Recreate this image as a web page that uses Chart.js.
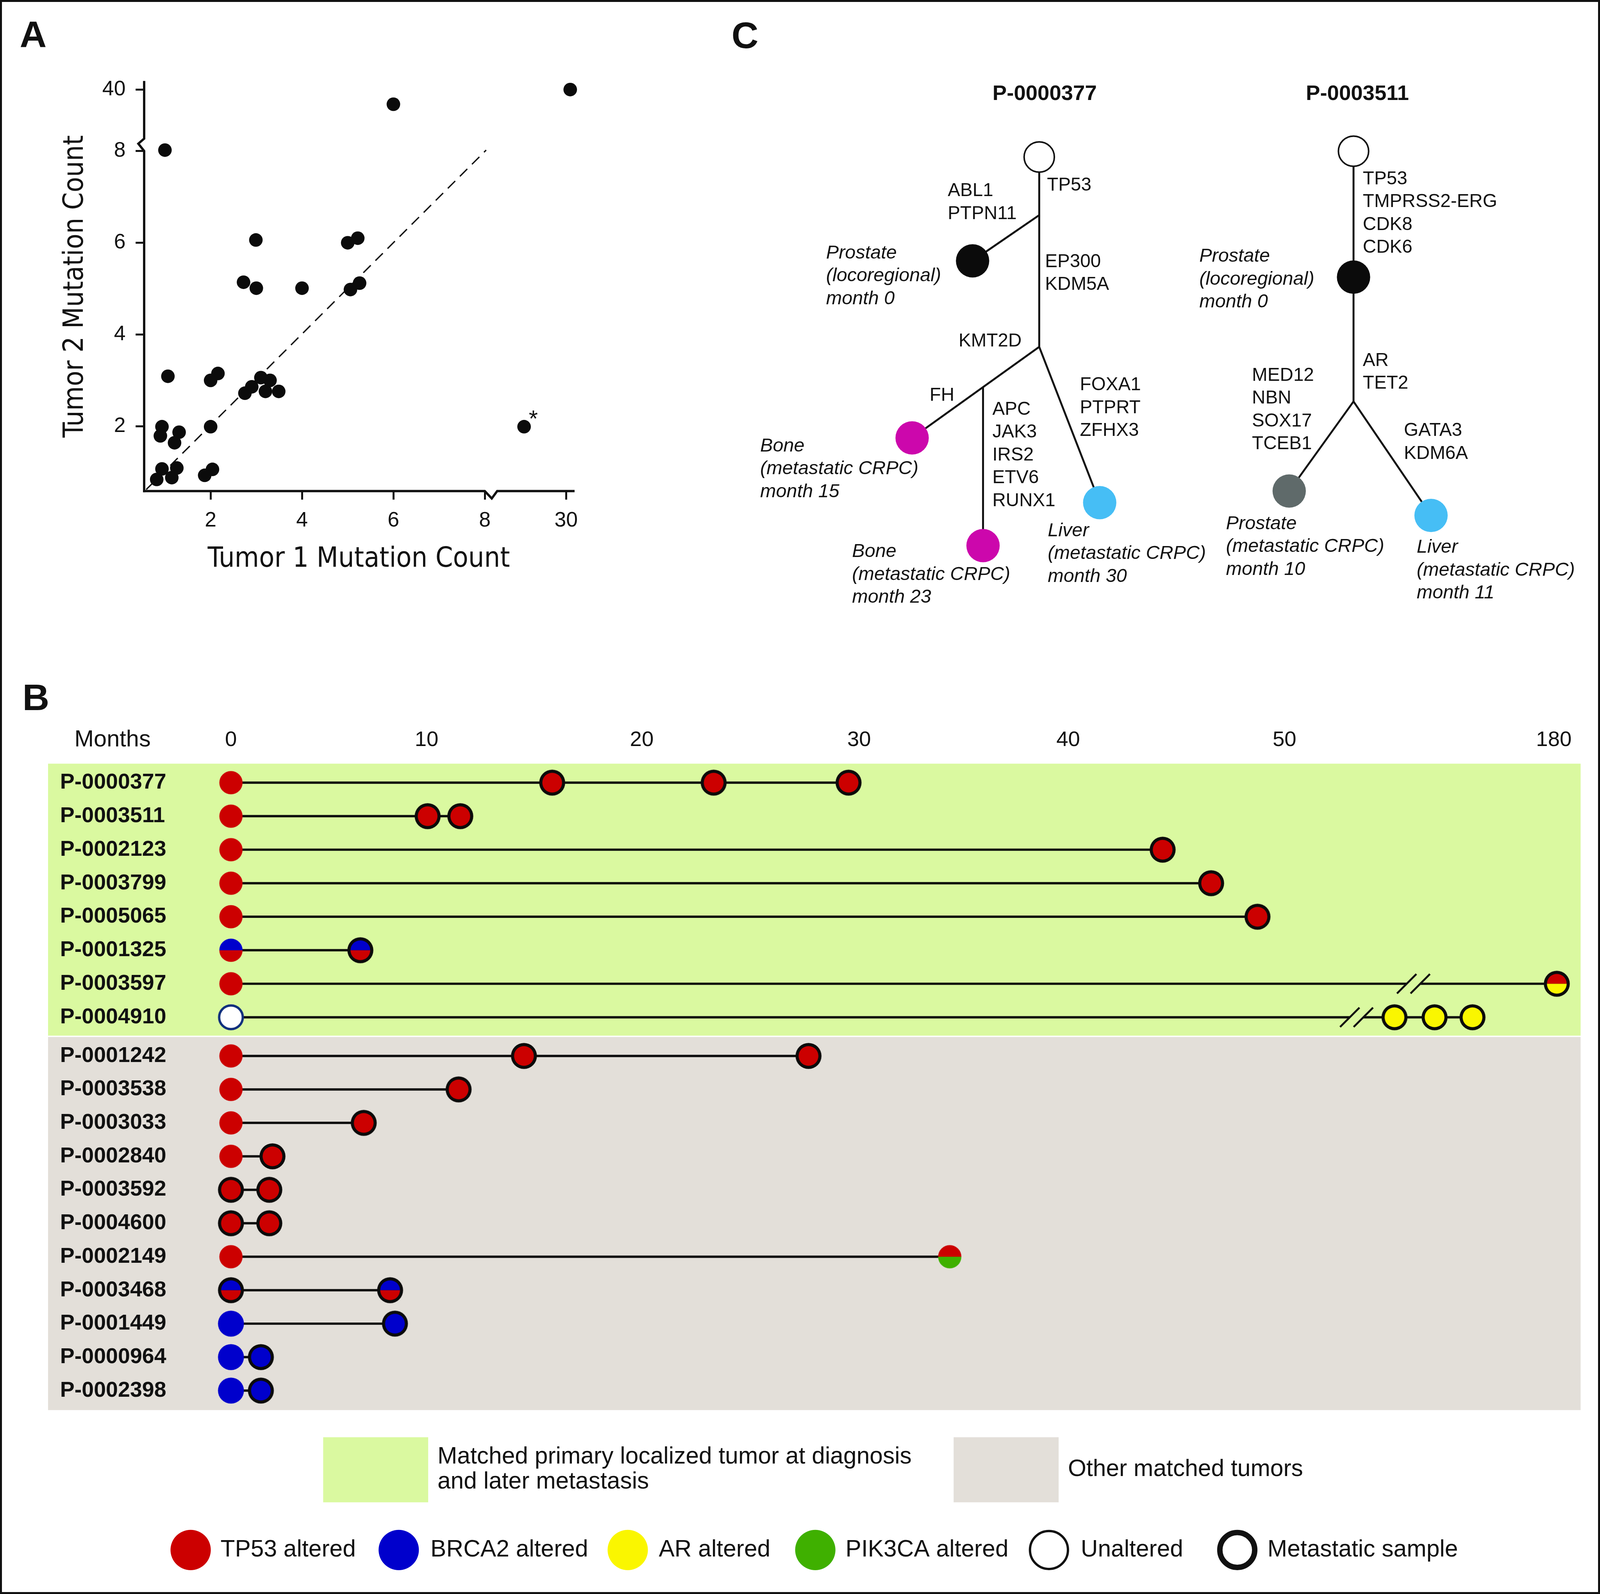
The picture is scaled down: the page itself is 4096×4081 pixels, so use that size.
<!DOCTYPE html>
<html><head><meta charset="utf-8">
<script src="https://cdn.jsdelivr.net/npm/chart.js@4.4.1/dist/chart.umd.min.js"></script>
<style>
html,body{margin:0;padding:0;background:#fff;}
#page{position:relative;width:4096px;height:4081px;overflow:hidden;background:#fff;}
#page canvas{position:absolute;}
#frame{position:absolute;left:0;top:0;width:4096px;height:4081px;box-sizing:border-box;border:5px solid #111;pointer-events:none;}
</style></head>
<body><div id="page"><div id="frame"></div></div>
<script>
// ================= DATA =================
// Panel A: positions on the (broken) axes; values above 8 lie in the compressed segment
const A_TUMOR1 = [0.82,0.935,1.15,1.26,0.935,0.9,1.21,1.31,1.065,1.0,1.87,2.04,2.0,2.0,2.16,2.75,2.9,3.1,3.2,3.3,3.49,2.72,3.0,2.99,4.0,5.0,5.22,5.06,5.26,6.0,9.87,8.86];
const A_TUMOR2 = [0.84,1.07,0.88,1.09,1.99,1.79,1.64,1.87,3.09,8.02,0.93,1.06,1.99,3.0,3.15,2.72,2.86,3.06,2.76,3.0,2.76,5.14,5.01,6.06,5.01,6.0,6.1,4.98,5.12,9.02,9.34,1.99];
const A_XTICK_POS = [2,4,6,8,9.78];
const A_XTICK_LABELS = ['2','4','6','8','30'];
const A_YTICK_POS = [2,4,6,8,9.34];
const A_YTICK_LABELS = ['2','4','6','8','40'];
const A_DIAG_X = [0.59, 8.03];
const A_DIAG_Y = [0.62, 8.02];
const A_BREAK = 8;
const A_STAR_INDEX = 31;

// Panel B
const B_TICK_POS = [0, 9.28, 19.49, 29.8, 39.72, 49.98, 62.76];
const B_TICK_LABELS = ['0','10','20','30','40','50','180'];
const B1_PATIENTS = ['P-0000377','P-0003511','P-0002123','P-0003799','P-0005065','P-0001325','P-0003597','P-0004910'];
const B1_MONTHS = [[0,15.24,22.9,29.3],[0,9.33,10.88],[0,44.2],[0,46.5],[0,48.7],[0,6.14],[0,62.9],[0,55.2,57.1,58.9]];
const B1_TYPES = [['T','Tm','Tm','Tm'],['T','Tm','Tm'],['T','Tm'],['T','Tm'],['T','Tm'],['BT','BTm'],['T','TAm'],['U','Am','Am','Am']];
const B2_PATIENTS = ['P-0001242','P-0003538','P-0003033','P-0002840','P-0003592','P-0004600','P-0002149','P-0003468','P-0001449','P-0000964','P-0002398'];
const B2_MONTHS = [[0,13.9,27.4],[0,10.8],[0,6.3],[0,1.97],[0,1.82],[0,1.82],[0,34.1],[0,7.55],[0,7.78],[0,1.42],[0,1.42]];
const B2_TYPES = [['T','Tm','Tm'],['T','Tm'],['T','Tm'],['T','Tm'],['Tm','Tm'],['Tm','Tm'],['T','TK'],['BTm','BTm'],['B','Bm'],['B','Bm'],['B','Bm']];
const B_BREAK_ROWS = ['P-0003597','P-0004910'];
const B_BREAK_AT = [56.1, 53.4];

// Panel C (tree layout units)
const C_NODE_X = [7.82, 6.10, 4.54, 6.37, 9.38, 15.93, 15.93, 14.27, 17.93];
const C_NODE_Y = [2.55, 5.23, 9.80, 12.58, 11.47, 2.40, 5.65, 11.17, 11.80];
const C_NODE_KIND = ['root','prostate','bone','bone','liver','root','prostate','prostateMet','liver'];
const C_EDGES = [
  [[7.82,2.55],[7.82,7.45]], [[7.82,4.05],[6.10,5.23]], [[7.82,7.45],[4.54,9.80]],
  [[6.37,8.49],[6.37,12.58]], [[7.82,7.45],[9.38,11.47]],
  [[15.93,2.40],[15.93,8.86]], [[15.93,8.86],[14.27,11.17]], [[15.93,8.86],[17.93,11.80]]
];
const C_TITLES = ['P-0000377','P-0003511'];
const C_TITLE_X = [7.96, 16.03];
const C_TITLE_Y = [0.93, 0.93];
const C_LABEL_TEXT = [
  ['TP53'],['ABL1','PTPN11'],['Prostate','(locoregional)','month 0'],['EP300','KDM5A'],['KMT2D'],['FH'],
  ['APC','JAK3','IRS2','ETV6','RUNX1'],['FOXA1','PTPRT','ZFHX3'],['Bone','(metastatic CRPC)','month 15'],
  ['Bone','(metastatic CRPC)','month 23'],['Liver','(metastatic CRPC)','month 30'],
  ['TP53','TMPRSS2-ERG','CDK8','CDK6'],['Prostate','(locoregional)','month 0'],['AR','TET2'],
  ['MED12','NBN','SOX17','TCEB1'],['GATA3','KDM6A'],['Prostate','(metastatic CRPC)','month 10'],
  ['Liver','(metastatic CRPC)','month 11']
];
const C_LABEL_X = [8.02,5.46,2.32,7.97,5.74,4.99,6.61,8.87,0.62,2.99,8.04,16.17,11.95,16.17,13.31,17.23,12.64,17.56];
const C_LABEL_Y = [3.28,3.43,5.03,5.26,7.31,8.71,9.07,8.44,10.01,12.74,12.20,3.12,5.12,7.81,8.19,9.62,12.02,12.63];
const C_LABEL_ITALIC = [0,0,1,0,0,0,0,0,1,1,1,0,1,0,0,0,1,1];

// Legend
const LEG_BOX_TEXT = [['Matched primary localized tumor at diagnosis','and later metastasis'],['Other matched tumors']];
const LEG_MARK_TEXT = ['TP53 altered','BRCA2 altered','AR altered','PIK3CA altered','Unaltered','Metastatic sample'];
const LEG_MARK_KIND = ['T','B','A','K','Uleg','Mleg'];

// ================= STYLE / LAYOUT =================
const S = 0.992;
const P = v => v * S;
const SANS = "'Liberation Sans', Arial, Helvetica, sans-serif";
const NARROW = "'DejaVu Sans Condensed', 'Liberation Sans Narrow', sans-serif";
const INK = '#111111';
const COL = {T:'#CC0000', B:'#0000CC', A:'#FAF600', K:'#3FB000', U:'#FFFFFF'};
const GREEN_BG = '#DAF9A0', GREY_BG = '#E3DFD9';
const F = (size, weight='normal', style='normal', family=SANS) => ({size: P(size), weight, style, family, lineHeight: 1.2});
const cssFont = (size, weight='normal', style='normal', family=SANS) => `${style} ${weight} ${P(size)}px ${family}`;
Chart.defaults.font.family = SANS;

function makeCanvas(left, top, w, h) {
  const c = document.createElement('canvas');
  c.width = Math.round(P(w)); c.height = Math.round(P(h));
  c.style.left = P(left) + 'px'; c.style.top = P(top) + 'px';
  c.style.width = c.width + 'px'; c.style.height = c.height + 'px';
  document.getElementById('page').insertBefore(c, document.getElementById('frame'));
  return c;
}
function letterPlugin(ch, ox, oy, x, y) {
  return {id: 'letter' + ch, afterDraw(chart) {
    const ctx = chart.ctx; ctx.save();
    ctx.font = cssFont(96, 'bold'); ctx.fillStyle = INK; ctx.textAlign = 'left'; ctx.textBaseline = 'alphabetic';
    ctx.fillText(ch, P(x - ox), P(y - oy)); ctx.restore();
  }};
}
const BASE = {responsive: false, animation: false, devicePixelRatio: 1, events: [],
  plugins: {legend: {display: false}, tooltip: {enabled: false}, title: {display: false}}};

// ================= PANEL A =================
(function () {
  const cv = makeCanvas(0, 0, 1600, 1560);
  const breakPlugin = {id: 'axisBreaks', afterDraw(chart) {
    const {ctx, chartArea: ca, scales: {x, y}} = chart;
    const xb = x.getPixelForValue(A_BREAK), yb = y.getPixelForValue(A_BREAK);
    ctx.save(); ctx.strokeStyle = INK; ctx.lineWidth = P(6); ctx.lineJoin = 'miter'; ctx.lineCap = 'butt';
    ctx.beginPath();
    ctx.moveTo(ca.left - P(3), ca.bottom); ctx.lineTo(xb, ca.bottom);
    ctx.lineTo(xb + P(18), ca.bottom + P(19)); ctx.lineTo(xb + P(32), ca.bottom);
    ctx.lineTo(ca.right + P(3), ca.bottom); ctx.stroke();
    ctx.beginPath();
    ctx.moveTo(ca.left, ca.bottom + P(3)); ctx.lineTo(ca.left, yb);
    ctx.lineTo(ca.left - P(15), yb - P(19)); ctx.lineTo(ca.left, yb - P(32));
    ctx.lineTo(ca.left, ca.top - P(2)); ctx.stroke();
    ctx.restore();
  }};
  const starPlugin = {id: 'star', afterDatasetsDraw(chart) {
    const pt = chart.getDatasetMeta(0).data[A_STAR_INDEX];
    const ctx = chart.ctx; ctx.save();
    ctx.font = cssFont(60); ctx.fillStyle = INK; ctx.textAlign = 'center'; ctx.textBaseline = 'alphabetic';
    ctx.fillText('*', pt.x + P(24), pt.y); ctx.restore();
  }};
  const tickCfg = (labels) => ({callback: (v, i) => labels[i], font: F(54), color: INK, autoSkip: false, maxRotation: 0, minRotation: 0});
  const gridCfg = {drawOnChartArea: false, drawTicks: true, tickLength: P(22), tickWidth: P(5), tickColor: INK, color: INK, lineWidth: P(5)};
  new Chart(cv, {
    type: 'scatter',
    data: {datasets: [
      {data: A_TUMOR1.map((x, i) => ({x, y: A_TUMOR2[i]})), pointRadius: P(17.5), pointHoverRadius: P(17.5),
       backgroundColor: '#0b0b0b', borderWidth: 0, clip: false},
      {data: A_DIAG_X.map((x, i) => ({x, y: A_DIAG_Y[i]})), showLine: true, borderColor: INK, borderWidth: P(3.5),
       borderDash: [P(27), P(17)], pointRadius: 0, pointHoverRadius: 0}
    ]},
    options: Object.assign({}, BASE, {
      layout: {autoPadding: false, padding: {left: 0, top: P(211), right: P(120), bottom: 0}},
      scales: {
        x: {type: 'linear', min: 0.545, max: 9.94,
            afterFit: s => { s.height = P(293); },
            afterBuildTicks: s => { s.ticks = A_XTICK_POS.map(v => ({value: v})); },
            ticks: Object.assign(tickCfg(A_XTICK_LABELS), {padding: P(22)}),
            grid: gridCfg, border: {display: false},
            title: {display: true, text: 'Tumor 1 Mutation Count', color: INK, font: F(72, 'normal', 'normal', NARROW), padding: {top: 0, bottom: P(72.8)}}},
        y: {type: 'linear', min: 0.586, max: 9.51,
            afterFit: s => { s.width = P(372); },
            afterBuildTicks: s => { s.ticks = A_YTICK_POS.map(v => ({value: v})); },
            ticks: Object.assign(tickCfg(A_YTICK_LABELS), {padding: P(26)}),
            grid: gridCfg, border: {display: false},
            title: {display: true, text: 'Tumor 2 Mutation Count', color: INK, font: F(72, 'normal', 'normal', NARROW), padding: {top: P(152), bottom: 0}}}
      }
    }),
    plugins: [breakPlugin, starPlugin, letterPlugin('A', 0, 0, 51, 122)]
  });
})();

// ================= PANEL C =================
(function () {
  const OX = 1850, OY = 30;
  const cv = makeCanvas(OX, OY, 2279, 1620);
  const kindStyle = {
    root: {bg: '#FFFFFF', bc: INK, bw: 4, r: 39},
    prostate: {bg: '#0b0b0b', bc: '#0b0b0b', bw: 0, r: 43},
    bone: {bg: '#CC07AC', bc: '#CC07AC', bw: 0, r: 43},
    liver: {bg: '#46BEF5', bc: '#46BEF5', bw: 0, r: 43},
    prostateMet: {bg: '#5F6A6A', bc: '#5F6A6A', bw: 0, r: 43}
  };
  const datasets = [{
    data: C_NODE_X.map((x, i) => ({x, y: C_NODE_Y[i]})),
    backgroundColor: C_NODE_KIND.map(k => kindStyle[k].bg),
    borderColor: C_NODE_KIND.map(k => kindStyle[k].bc),
    borderWidth: C_NODE_KIND.map(k => P(kindStyle[k].bw)),
    pointRadius: C_NODE_KIND.map(k => P(kindStyle[k].r)),
    pointHoverRadius: C_NODE_KIND.map(k => P(kindStyle[k].r)), clip: false
  }].concat(C_EDGES.map(e => ({
    data: e.map(([x, y]) => ({x, y})), showLine: true, borderColor: INK, borderWidth: P(5),
    pointRadius: 0, pointHoverRadius: 0, clip: false
  })));
  const textPlugin = {id: 'treeText', afterDatasetsDraw(chart) {
    const {ctx, scales: {x, y}} = chart;
    ctx.save(); ctx.fillStyle = INK; ctx.textBaseline = 'middle';
    ctx.textAlign = 'center'; ctx.font = cssFont(55, 'bold');
    C_TITLES.forEach((t, i) => ctx.fillText(t, x.getPixelForValue(C_TITLE_X[i]), y.getPixelForValue(C_TITLE_Y[i])));
    ctx.textAlign = 'left';
    C_LABEL_TEXT.forEach((lines, i) => {
      ctx.font = cssFont(C_LABEL_ITALIC[i] ? 49 : 48, 'normal', C_LABEL_ITALIC[i] ? 'italic' : 'normal');
      lines.forEach((ln, j) => ctx.fillText(ln, x.getPixelForValue(C_LABEL_X[i]), y.getPixelForValue(C_LABEL_Y[i] + j * 0.59)));
    });
    ctx.restore();
  }};
  new Chart(cv, {
    type: 'scatter',
    data: {datasets},
    options: Object.assign({}, BASE, {
      layout: {autoPadding: false, padding: 0},
      scales: {
        x: {type: 'linear', display: false, min: -0.5, max: 22.29},
        y: {type: 'linear', display: false, min: -1.2, max: 15.0, reverse: true}
      }
    }),
    plugins: [textPlugin, letterPlugin('C', OX, OY, 1888, 124)]
  });
})();

// ================= PANEL B =================
function makeMarker(code) {
  const met = code.endsWith('m');
  const base = met ? code.slice(0, -1) : code;
  const outer = P(met || base === 'B' || base === 'U' ? 33.5 : 30);
  const size = Math.ceil(outer * 2 + 2);
  const c = document.createElement('canvas'); c.width = c.height = size;
  const g = c.getContext('2d'); const cx = size / 2, cy = size / 2;
  if (base === 'U') {
    g.fillStyle = '#fff'; g.strokeStyle = '#0F2F7D'; g.lineWidth = P(6);
    g.beginPath(); g.arc(cx, cy, outer - P(3), 0, Math.PI * 2); g.fill(); g.stroke();
    return c;
  }
  const inner = met ? outer - P(8) : outer;
  if (met) { g.fillStyle = '#0b0b0b'; g.beginPath(); g.arc(cx, cy, outer, 0, Math.PI * 2); g.fill(); }
  const cols = base.split('').map(ch => COL[ch]);
  if (cols.length === 1) {
    g.fillStyle = cols[0]; g.beginPath(); g.arc(cx, cy, inner, 0, Math.PI * 2); g.fill();
  } else {
    g.fillStyle = cols[0]; g.beginPath(); g.arc(cx, cy, inner, Math.PI, Math.PI * 2); g.closePath(); g.fill();
    g.fillStyle = cols[1]; g.beginPath(); g.arc(cx, cy, inner, 0, Math.PI); g.closePath(); g.fill();
  }
  return c;
}
const MARKERS = {};
[...B1_TYPES.flat(), ...B2_TYPES.flat()].forEach(t => { if (!MARKERS[t]) MARKERS[t] = makeMarker(t); });

function bChart(OX, OY, W, H, pad, patients, months, types, bg, showX, extraPlugins) {
  const cv = makeCanvas(OX, OY, W, H);
  const datasets = patients.map((p, i) => ({
    data: months[i].map(m => ({x: m, y: p})),
    showLine: true, borderColor: '#0b0b0b', borderWidth: P(6),
    pointStyle: types[i].map(t => MARKERS[t]),
    pointRadius: P(30), pointHoverRadius: P(30), clip: false
  }));
  const bgPlugin = {id: 'bg', beforeDraw(chart) {
    const ctx = chart.ctx; ctx.save(); ctx.fillStyle = bg.color;
    ctx.fillRect(P(bg.l - OX), P(bg.t - OY), P(bg.r - bg.l), P(bg.b - bg.t)); ctx.restore();
  }};
  const breakPlugin = {id: 'rowBreaks', afterDatasetsDraw(chart) {
    const {ctx, scales: {x, y}} = chart;
    B_BREAK_ROWS.forEach((row, i) => {
      const idx = patients.indexOf(row); if (idx < 0) return;
      const py = y.getPixelForValue(idx), px = x.getPixelForValue(B_BREAK_AT[i]);
      const sep = P(35), dx = P(25), h = P(25);
      ctx.save(); ctx.fillStyle = bg.color;
      ctx.fillRect(px - sep / 2, py - P(5), sep, P(10));
      ctx.strokeStyle = INK; ctx.lineWidth = P(5); ctx.lineCap = 'butt';
      [-sep / 2, sep / 2].forEach(o => { ctx.beginPath(); ctx.moveTo(px + o - dx, py + h); ctx.lineTo(px + o + dx, py - h); ctx.stroke(); });
      ctx.restore();
    });
  }};
  return new Chart(cv, {
    type: 'scatter',
    data: {datasets},
    options: Object.assign({}, BASE, {
      layout: {autoPadding: false, padding: {left: P(pad.l), top: P(pad.t), right: P(pad.r), bottom: P(pad.b)}},
      scales: {
        x: {type: 'linear', position: 'top', display: showX, min: -1.397, max: 64.03,
            afterFit: s => { s.height = showX ? P(120) : 0; },
            afterBuildTicks: s => { s.ticks = B_TICK_POS.map(v => ({value: v})); },
            ticks: {callback: (v, i) => B_TICK_LABELS[i], font: F(55), color: INK, padding: P(33), autoSkip: false, maxRotation: 0, minRotation: 0},
            grid: {display: false, drawTicks: false}, border: {display: false}},
        y: {type: 'category', labels: patients, offset: true, position: 'left',
            afterFit: s => { s.width = P(365); },
            ticks: {crossAlign: 'far', font: F(56, 'bold'), color: INK, padding: 0, autoSkip: false},
            grid: {display: false, drawTicks: false}, border: {display: false}}
      }
    }),
    plugins: [bgPlugin, breakPlugin].concat(extraPlugins)
  });
}

const monthsPlugin = {id: 'monthsLabel', afterDraw(chart) {
  const ctx = chart.ctx; ctx.save(); ctx.font = cssFont(60); ctx.fillStyle = INK;
  ctx.textAlign = 'left'; ctx.textBaseline = 'middle';
  ctx.fillText('Months', P(192), P(1910 - 1740)); ctx.restore();
}};
// green group: chart area 1976.75 .. 2668.75
bChart(0, 1740, 4129, 973.75, {l: 155, t: 116.75, r: 50, b: 45}, B1_PATIENTS, B1_MONTHS, B1_TYPES,
  {color: GREEN_BG, l: 124, r: 4079, t: 1971, b: 2673}, true, [monthsPlugin, letterPlugin('B', 0, 1740, 58, 1833)]);

const G2_TOP = 2636.8;
const legendPlugin = {id: 'legendB', afterDraw(chart) {
  const OY = G2_TOP, ctx = chart.ctx; ctx.save();
  ctx.textAlign = 'left'; ctx.textBaseline = 'middle'; ctx.font = cssFont(61);
  const boxL = [834, 2461], boxColors = [GREEN_BG, GREY_BG];
  LEG_BOX_TEXT.forEach((lines, i) => {
    ctx.fillStyle = boxColors[i]; ctx.fillRect(P(boxL[i]), P(3709 - OY), P(271), P(168));
    ctx.fillStyle = INK;
    const yc = lines.length === 2 ? [3760, 3825] : [3792];
    lines.forEach((ln, j) => ctx.fillText(ln, P(boxL[i] + 295), P(yc[j] - OY)));
  });
  const cx = [492, 1029, 1620, 2104, 2707, 3193], tx = [569, 1111, 1700, 2182, 2789, 3271], cy = P(4000 - OY), r = P(52);
  LEG_MARK_KIND.forEach((k, i) => {
    ctx.beginPath();
    if (k === 'Uleg') { ctx.fillStyle = '#fff'; ctx.strokeStyle = INK; ctx.lineWidth = P(6); ctx.arc(P(cx[i]), cy, r - P(3), 0, Math.PI * 2); ctx.fill(); ctx.stroke(); }
    else if (k === 'Mleg') { ctx.fillStyle = '#fff'; ctx.strokeStyle = INK; ctx.lineWidth = P(14); ctx.arc(P(cx[i]), cy, r - P(7), 0, Math.PI * 2); ctx.fill(); ctx.stroke(); }
    else { ctx.fillStyle = COL[k]; ctx.arc(P(cx[i]), cy, r, 0, Math.PI * 2); ctx.fill(); }
    ctx.fillStyle = INK; ctx.fillText(LEG_MARK_TEXT[i], P(tx[i]), cy);
  });
  ctx.restore();
}};
// grey group: chart area 2681.8 .. 3632.2
bChart(0, G2_TOP, 4129, 4114 - G2_TOP, {l: 155, t: 2681.8 - G2_TOP, r: 50, b: 4114 - 3632.2}, B2_PATIENTS, B2_MONTHS, B2_TYPES,
  {color: GREY_BG, l: 124, r: 4079, t: 2676, b: 3639}, false, [legendPlugin]);
</script>
</body></html>
